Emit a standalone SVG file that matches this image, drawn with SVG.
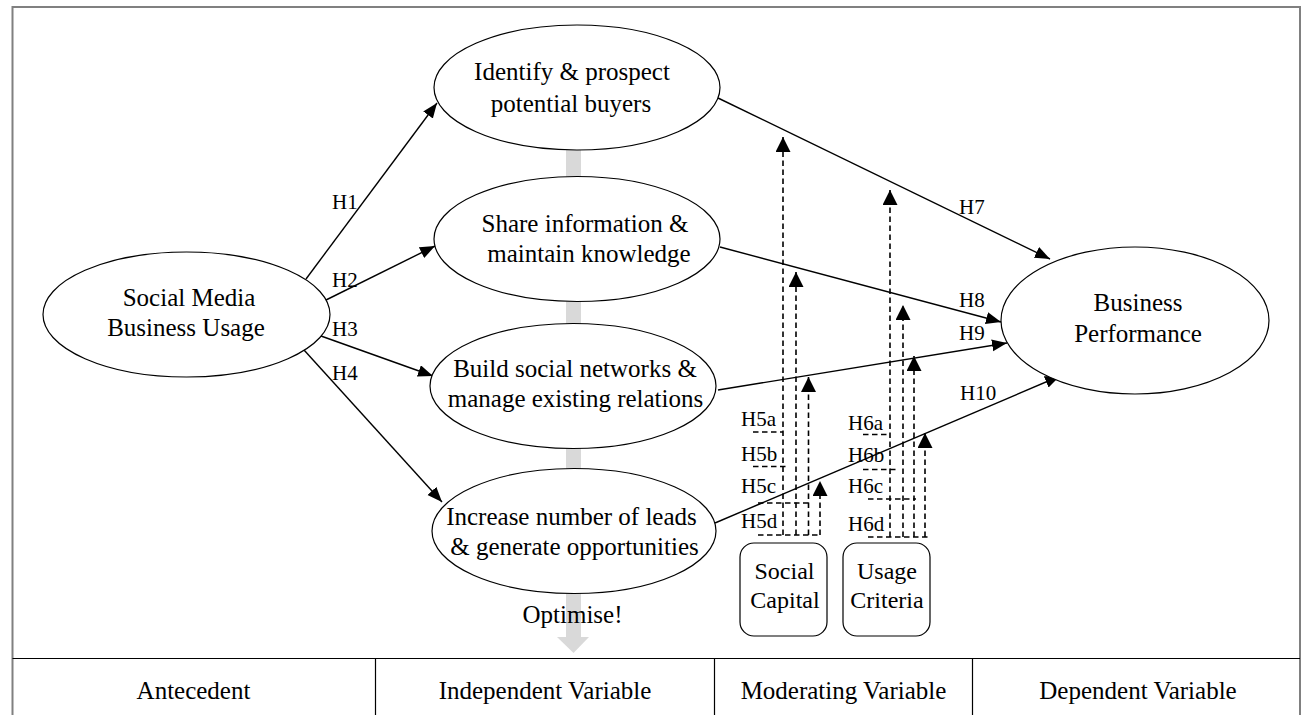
<svg xmlns="http://www.w3.org/2000/svg" width="1303" height="715" viewBox="0 0 1303 715" font-family="'Liberation Serif', 'Times New Roman', 'DejaVu Serif', serif">
<style>
  text { font-family: "Liberation Serif", "Times New Roman", "DejaVu Serif", serif; fill: #000; }
  .t { font-size: 25px; text-anchor: middle; }
  .b { font-size: 24px; text-anchor: middle; }
  .h { font-size: 21px; }
  .node { fill: #fff; stroke: #000; stroke-width: 1.2; }
  .edge { fill: none; stroke: #000; stroke-width: 1.4; }
  .dash { fill: none; stroke: #000; stroke-width: 1.6; stroke-dasharray: 5.5 3.5; }
  .frame { fill: none; stroke: #808080; stroke-width: 2; }
  .grid { fill: none; stroke: #000; stroke-width: 1.2; }
</style>
<defs>
  <marker id="ah" markerUnits="userSpaceOnUse" markerWidth="16" markerHeight="13" refX="15" refY="6" orient="auto">
    <path d="M0,0 L15,6 L0,12 z" fill="#000"/>
  </marker>
  <marker id="dh" markerUnits="userSpaceOnUse" markerWidth="16" markerHeight="16" refX="15" refY="7.5" orient="auto">
    <path d="M0,0 L15,7.5 L0,15 z" fill="#000"/>
  </marker>
</defs>
<rect x="0" y="0" width="1303" height="715" fill="#fff"/>

<g id="frame">
  <path class="frame" d="M12.5,715 L12.5,7 L1300,7 L1300,715"/>
  <path class="grid" d="M12.5,658.5 L1300,658.5 M375.5,658.5 L375.5,715 M714.5,658.5 L714.5,715 M972.5,658.5 L972.5,715"/>
  <text class="t" x="193.5" y="699">Antecedent</text>
  <text class="t" x="545" y="699">Independent Variable</text>
  <text class="t" x="843.5" y="699">Moderating Variable</text>
  <text class="t" x="1138" y="699">Dependent Variable</text>
</g>

<g id="optimise">
  <rect x="566" y="150" width="15" height="488" fill="#d9d9d9"/>
  <path d="M557,637 L589,637 L573.5,653 z" fill="#d9d9d9"/>
</g>

<g id="connectors">
  <path class="edge" d="M306,279 L437,103" marker-end="url(#ah)"/>
  <path class="edge" d="M326,300 L435,246" marker-end="url(#ah)"/>
  <path class="edge" d="M321,336 L433,376" marker-end="url(#ah)"/>
  <path class="edge" d="M304,350 L442,502" marker-end="url(#ah)"/>
  <path class="edge" d="M718,98 L1050,259" marker-end="url(#ah)"/>
  <path class="edge" d="M720,247 L1001,322" marker-end="url(#ah)"/>
  <path class="edge" d="M718,390 L1007,343" marker-end="url(#ah)"/>
  <path class="edge" d="M715,523 L1060,376" marker-end="url(#ah)"/>
  <text class="h" x="332" y="209">H1</text>
  <text class="h" x="332" y="287">H2</text>
  <text class="h" x="332" y="336">H3</text>
  <text class="h" x="332" y="380">H4</text>
  <text class="h" x="959" y="214">H7</text>
  <text class="h" x="959" y="307">H8</text>
  <text class="h" x="959" y="340">H9</text>
  <text class="h" x="960" y="400">H10</text>

  <path class="dash" d="M783,535 L783,137" marker-end="url(#dh)"/>
  <path class="dash" d="M796,535 L796,272" marker-end="url(#dh)"/>
  <path class="dash" d="M808.5,535 L808.5,377" marker-end="url(#dh)"/>
  <path class="dash" d="M820,535 L820,481" marker-end="url(#dh)"/>
  <path class="dash" d="M753,432 L783,432 M753,466.5 L789,466.5 M758,503 L808.5,503 M758,535 L820,535"/>
  <text class="h" x="741" y="426">H5a</text>
  <text class="h" x="741" y="461">H5b</text>
  <text class="h" x="741" y="493">H5c</text>
  <text class="h" x="741" y="528">H5d</text>

  <path class="dash" d="M890,537 L890,190" marker-end="url(#dh)"/>
  <path class="dash" d="M903,537 L903,305" marker-end="url(#dh)"/>
  <path class="dash" d="M914,537 L914,356" marker-end="url(#dh)"/>
  <path class="dash" d="M925,537 L925,433" marker-end="url(#dh)"/>
  <path class="dash" d="M863,434.5 L890,434.5 M863,469.5 L898,469.5 M868,499 L916,499 M868,537 L928,537"/>
  <text class="h" x="848" y="430">H6a</text>
  <text class="h" x="848" y="462">H6b</text>
  <text class="h" x="848" y="493">H6c</text>
  <text class="h" x="848" y="531">H6d</text>
</g>

<g id="n-usage">
  <ellipse class="node" cx="186.5" cy="314.5" rx="143.5" ry="62.5"/>
  <text class="t" x="189" y="306">Social Media</text>
  <text class="t" x="186" y="336">Business Usage</text>
</g>
<g id="n-identify">
  <ellipse class="node" cx="577" cy="87.5" rx="143" ry="62.5"/>
  <text class="t" x="572" y="80">Identify &amp; prospect</text>
  <text class="t" x="571" y="112">potential buyers</text>
</g>
<g id="n-share">
  <ellipse class="node" cx="577" cy="239" rx="143" ry="62.5"/>
  <text class="t" x="585" y="232">Share information &amp;</text>
  <text class="t" x="589" y="262">maintain knowledge</text>
</g>
<g id="n-build">
  <ellipse class="node" cx="573" cy="386" rx="143" ry="62.5"/>
  <text class="t" x="575" y="377">Build social networks &amp;</text>
  <text class="t" x="575.5" y="407">manage existing relations</text>
</g>
<g id="n-increase">
  <ellipse class="node" cx="574" cy="531" rx="142" ry="62.5"/>
  <text class="t" x="571.5" y="525">Increase number of leads</text>
  <text class="t" x="574.5" y="555">&amp; generate opportunities</text>
</g>
<g id="n-performance">
  <ellipse class="node" cx="1135" cy="320.5" rx="134" ry="73.5"/>
  <text class="t" x="1138" y="311">Business</text>
  <text class="t" x="1138" y="342">Performance</text>
</g>
<g id="n-social-capital">
  <rect class="node" x="740" y="543" width="87" height="93" rx="14"/>
  <text class="b" x="784.5" y="579">Social</text>
  <text class="b" x="785" y="608">Capital</text>
</g>
<g id="n-usage-criteria">
  <rect class="node" x="843" y="543" width="87" height="93" rx="14"/>
  <text class="b" x="887" y="579">Usage</text>
  <text class="b" x="887" y="608">Criteria</text>
</g>
<text class="t" x="572.5" y="623">Optimise!</text>
</svg>
